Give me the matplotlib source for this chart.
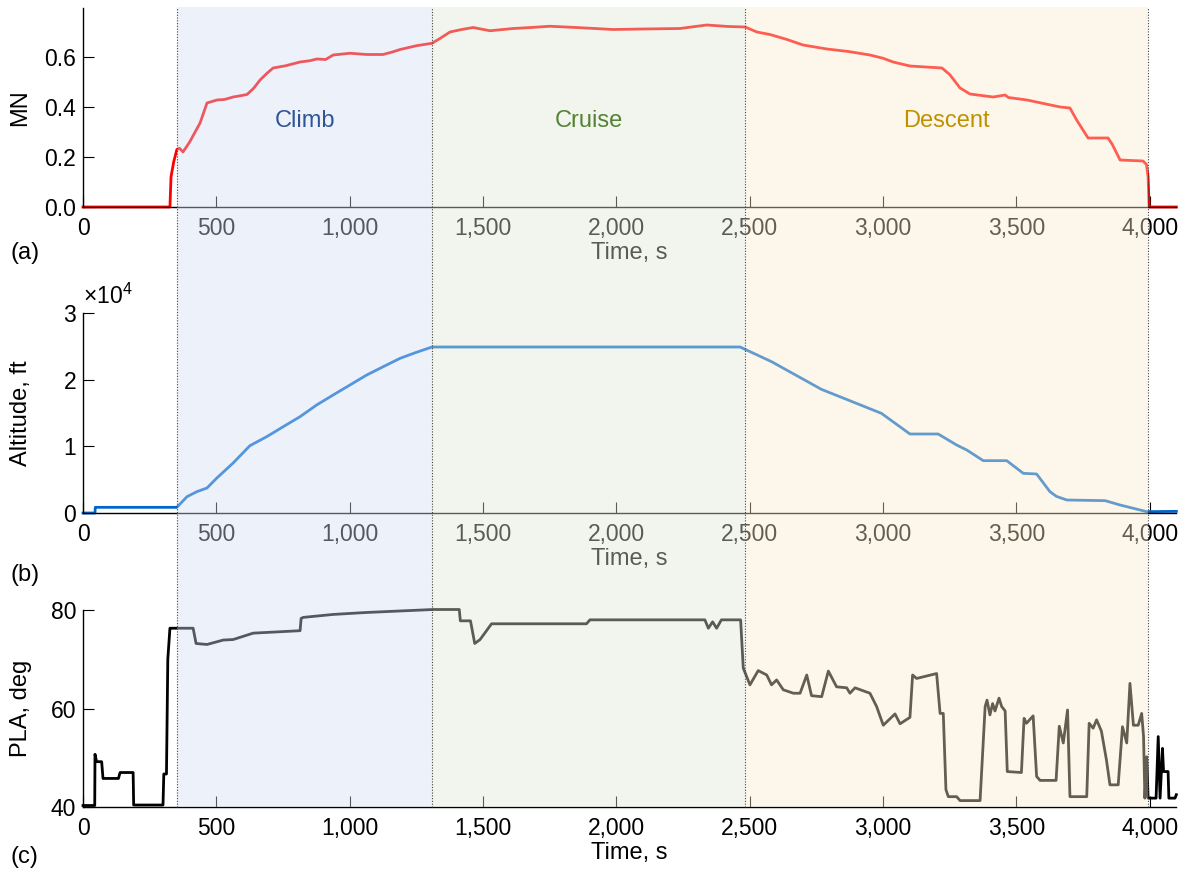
"""Flight profile: Mach number, altitude and PLA over time with phase shading."""

import matplotlib
matplotlib.use("Agg")
import matplotlib.pyplot as plt
from matplotlib.patches import Rectangle
from matplotlib.lines import Line2D
from matplotlib.text import Text
from matplotlib.ticker import FuncFormatter
from matplotlib.transforms import blended_transform_factory

plt.rcParams["font.family"] = ["Liberation Sans", "DejaVu Sans"]
plt.rcParams["mathtext.default"] = "regular"

# ── Data ──
mn_t = [0, 326, 330, 340, 352, 362, 375, 400, 439, 465, 502, 530, 563, 590, 615,
        640, 664, 690, 713, 760, 814, 850, 877, 910, 938, 1001, 1064, 1100, 1125,
        1160, 1189, 1250, 1309, 1340, 1376, 1420, 1463, 1526, 1614, 1680, 1751,
        1850, 1988, 2100, 2239, 2339, 2420, 2483, 2527, 2576, 2640, 2700, 2790,
        2870, 2951, 3000, 3038, 3101, 3221, 3250, 3289, 3326, 3413, 3458, 3470,
        3540, 3664, 3701, 3725, 3769, 3844, 3860, 3889, 3975, 3988, 3994, 3998, 4100]
mn_v = [0, 0, 0.12, 0.18, 0.23, 0.235, 0.22, 0.26, 0.336, 0.416, 0.428, 0.43, 0.44,
        0.445, 0.45, 0.475, 0.508, 0.535, 0.556, 0.565, 0.58, 0.585, 0.592, 0.59,
        0.608, 0.615, 0.61, 0.61, 0.61, 0.62, 0.63, 0.645, 0.655, 0.675, 0.70, 0.71,
        0.718, 0.705, 0.714, 0.718, 0.723, 0.718, 0.71, 0.712, 0.714, 0.728, 0.722,
        0.72, 0.70, 0.69, 0.67, 0.648, 0.632, 0.622, 0.608, 0.595, 0.58, 0.564,
        0.556, 0.53, 0.476, 0.452, 0.44, 0.448, 0.438, 0.428, 0.40, 0.396, 0.35,
        0.276, 0.276, 0.25, 0.188, 0.184, 0.17, 0.12, 0, 0]

alt_t = [0, 45, 46, 352, 390, 427, 465, 502, 563, 626, 689, 751, 814, 876, 938,
         1001, 1064, 1126, 1189, 1250, 1309, 2464, 2582, 2769, 2994, 3101, 3207,
         3276, 3314, 3376, 3464, 3526, 3576, 3626, 3650, 3689, 3833, 3889, 3989, 4100]
alt_v = [0, 0, 850, 850, 2450, 3200, 3750, 5250, 7500, 10100, 11450, 12950, 14450,
         16200, 17700, 19200, 20700, 21950, 23200, 24100, 24900, 24900, 22700,
         18550, 14950, 11850, 11850, 10200, 9450, 7850, 7850, 5950, 5850, 3200,
         2500, 1950, 1850, 1200, 200, 250]

pla_t = [0, 44, 45, 51, 70, 75, 133, 139, 188, 190, 300, 303, 313, 318, 326, 413,
         424, 465, 526, 563, 638, 814, 818, 826, 938, 1064, 1313, 1411, 1415, 1453,
         1469, 1489, 1532, 1888, 1901, 2332, 2345, 2361, 2376, 2394, 2466, 2476,
         2501, 2532, 2564, 2582, 2601, 2626, 2664, 2689, 2714, 2732, 2770, 2795,
         2826, 2864, 2876, 2895, 2951, 2976, 3001, 3045, 3064, 3101, 3111, 3126,
         3201, 3214, 3226, 3236, 3245, 3276, 3289, 3364, 3383, 3390, 3401, 3411,
         3420, 3435, 3445, 3458, 3466, 3519, 3529, 3538, 3563, 3576, 3589, 3649,
         3661, 3676, 3692, 3701, 3764, 3773, 3788, 3801, 3819, 3838, 3851, 3882,
         3898, 3914, 3926, 3939, 3957, 3970, 3977, 3982, 3989, 3994, 4024, 4032,
         4039, 4048, 4052, 4063, 4069, 4072, 4095, 4100]
pla_v = [40.3, 40.3, 50.7, 49.2, 49.2, 45.8, 45.8, 47.0, 47.0, 40.4, 40.4, 46.7,
         46.7, 70.0, 76.3, 76.3, 73.2, 73.0, 73.9, 74.0, 75.3, 75.8, 78.3, 78.5,
         79.1, 79.5, 80.1, 80.1, 77.8, 77.8, 73.2, 74.0, 77.2, 77.2, 78.0, 78.0,
         76.3, 77.6, 76.3, 78.0, 78.0, 68.2, 64.8, 67.7, 66.8, 64.8, 65.8, 63.8,
         63.1, 63.1, 66.8, 62.6, 62.4, 67.6, 64.4, 64.2, 63.1, 64.2, 63.1, 60.4,
         56.6, 58.9, 56.9, 58.2, 66.8, 66.1, 67.1, 59.0, 59.0, 43.5, 42.1, 42.1,
         41.3, 41.3, 60.4, 61.7, 58.7, 61.0, 59.5, 62.1, 60.4, 59.5, 47.2, 47.0,
         58.0, 57.0, 58.5, 46.2, 45.4, 45.4, 56.4, 53.0, 59.7, 42.1, 42.1, 57.0,
         56.0, 57.7, 55.4, 49.5, 44.5, 44.5, 56.3, 53.0, 65.1, 56.6, 56.6, 59.0,
         54.3, 41.8, 50.2, 41.8, 41.8, 54.3, 41.8, 51.9, 47.2, 47.2, 47.2, 41.8,
         41.8, 42.5]

# flight phases
phase_names = ["Climb", "Cruise", "Descent"]
phase_edges = [352, 1310, 2482, 3995]
phase_fill = ["#d4def2", "#dee8d4", "#fcedcd"]
phase_text = ["#2F5597", "#548235", "#BF9000"]

XMAX = 4100
W, H = 1187, 875
TICK_FS = 16.5
LABEL_FS = 17


def px_box(left, top, right, bottom):
    """Pixel box (from top-left) -> figure fraction rect."""
    return [left / W, 1 - bottom / H, (right - left) / W, (bottom - top) / H]


fig = plt.figure(figsize=(W / 100, H / 100), dpi=100)
right = 83 + XMAX * 0.26667
ax_a = fig.add_axes(px_box(83, 8, right, 207))
ax_b = fig.add_axes(px_box(83, 313, right, 513))
ax_c = fig.add_axes(px_box(83, 610, right, 807))

ax_a.plot(mn_t, mn_v, color="#ff0000", lw=2.0, clip_on=False)
ax_b.plot(alt_t, alt_v, color="#0066cc", lw=2.0, clip_on=False)
ax_c.plot(pla_t, pla_v, color="black", lw=2.0, clip_on=False)

comma = FuncFormatter(lambda v, _: f"{v:,.0f}")
for ax in (ax_a, ax_b, ax_c):
    ax.set_xlim(0, XMAX)
    ax.set_xticks(range(0, 4001, 500))
    ax.xaxis.set_major_formatter(comma)
    ax.spines[["top", "right"]].set_visible(False)
    ax.spines[["left", "bottom"]].set_linewidth(1.0)
    ax.tick_params(direction="in", length=8, width=0.8, labelsize=TICK_FS)
    ax.tick_params(axis="x", pad=7)
    ax.tick_params(axis="y", pad=5)
    ax.set_xlabel("Time, s", fontsize=LABEL_FS, labelpad=2)
    ax.yaxis.set_label_coords(-0.047, 0.5)
    ax.patch.set_alpha(0)

ax_a.set_ylim(0, 0.796)
ax_a.set_yticks([0, 0.2, 0.4, 0.6])
ax_a.yaxis.set_major_formatter(FuncFormatter(lambda v, _: f"{v:.1f}"))
ax_a.set_ylabel("MN", fontsize=LABEL_FS)

ax_b.set_ylim(0, 30000)
ax_b.set_yticks([0, 10000, 20000, 30000])
ax_b.set_yticklabels(["0", "1", "2", "3"])
ax_b.set_ylabel("Altitude, ft", fontsize=LABEL_FS)
ax_b.text(0.0, 1.02, r"×10$^{4}$", transform=ax_b.transAxes, fontsize=TICK_FS,
          ha="left", va="bottom")

ax_c.set_ylim(40, 80)
ax_c.set_yticks([40, 60, 80])
ax_c.set_ylabel("PLA, deg", fontsize=LABEL_FS)

for lbl, ypx in zip(["(a)", "(b)", "(c)"], [253, 575, 857]):
    fig.text(10 / W, 1 - ypx / H, lbl, fontsize=LABEL_FS, ha="left", va="center")

# ── Phase shading across all three panels, drawn on top, semi-transparent ──
trans = blended_transform_factory(ax_c.transData, fig.transFigure)
y0, y1 = 1 - 807 / H, 1 - 7 / H
for i in range(len(phase_names)):
    x0, x1 = phase_edges[i], phase_edges[i + 1]
    fig.add_artist(Rectangle((x0, y0), x1 - x0, y1 - y0, transform=trans,
                             facecolor=phase_fill[i], edgecolor="none",
                             alpha=0.4, zorder=5))

for x in phase_edges:
    fig.add_artist(Line2D([x, x], [y0, y1], transform=trans, color="#444444",
                          lw=0.8, ls=(0, (1, 1.5)), zorder=6))

# phase names sit above the shading
for i, name in enumerate(phase_names):
    xc = (phase_edges[i] + phase_edges[i + 1]) / 2
    fig.add_artist(Text(xc, 0.344, name, color=phase_text[i], fontsize=17,
                        ha="center", va="center", transform=ax_a.transData,
                        zorder=7))

fig.savefig("out.png", dpi=100)
